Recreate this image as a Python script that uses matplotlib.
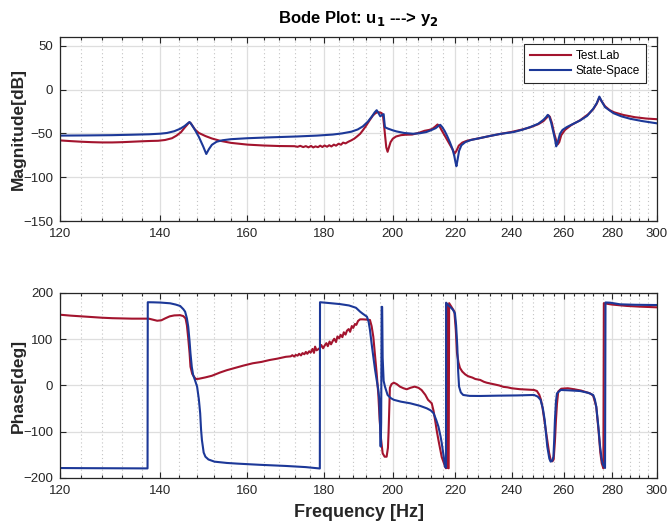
import matplotlib
matplotlib.use("Agg")
import matplotlib.pyplot as plt
from matplotlib.ticker import FixedLocator, NullFormatter, FixedFormatter

plt.rcParams['font.family'] = ['Liberation Sans', 'DejaVu Sans']

# ---------------- Magnitude [dB] ----------------
mag_test_f = [120.0, 122.0, 124.0, 126.0, 128.0, 130.0, 132.0, 134.0, 136.0, 138.0,
              139.5, 141.0, 142.5, 143.5, 144.5, 145.2, 145.8, 146.3, 146.6, 147.0,
              147.6, 148.5, 150.0, 151.5, 153.5, 156.0, 160.0, 164.0, 168.0,
              172.0, 172.8, 173.5, 174.3, 175.0, 175.7, 176.4, 177.0, 177.6, 178.3,
              178.9, 179.5, 180.1, 180.8, 181.4, 182.0, 182.7, 183.3, 184.0, 184.7,
              185.3, 186.0, 186.8, 187.6, 188.5, 189.3, 190.2, 191.0, 192.0, 193.0,
              194.0, 194.7, 195.3, 196.0, 196.6, 197.0, 197.3, 197.7, 198.0, 198.4,
              198.8, 199.3, 200.0, 201.0, 202.5, 204.0, 206.0, 208.0, 210.0, 211.5,
              212.5, 213.5, 214.2, 214.8, 215.5, 216.5, 217.5, 218.5, 219.3, 219.9,
              220.5, 221.3, 222.5, 224.0, 226.0, 228.7, 232.0, 236.0, 240.0, 244.0,
              247.0, 250.0, 252.0, 253.3, 254.0, 254.5, 255.3, 256.2, 257.0, 257.6,
              258.2, 259.0, 260.5, 263.0, 266.6, 270.0, 272.0, 273.5, 274.6, 275.5,
              277.0, 279.0, 281.0, 285.0, 290.0, 295.0, 300.0]
mag_test_db = [-58.0, -58.8, -59.5, -60.0, -60.3, -60.3, -60.0, -59.5, -59.0, -58.6,
               -58.4, -57.5, -55.5, -52.5, -48.5, -44.0, -40.5, -37.5, -38.0, -41.0,
               -45.5, -49.5, -53.0, -55.8, -58.5, -60.8, -62.8, -63.8, -64.4,
               -64.6, -65.3, -64.2, -65.6, -64.5, -65.9, -64.3, -66.0, -64.8, -65.7,
               -64.0, -65.5, -63.8, -65.2, -63.5, -64.9, -62.8, -64.0, -61.8, -62.9,
               -60.5, -61.4, -59.5, -58.0, -56.0, -53.5, -50.5, -46.5, -41.0, -35.0,
               -29.5, -27.0, -25.8, -26.0, -26.8, -30.0, -40.0, -55.0, -66.0, -71.0,
               -66.0, -60.0, -56.0, -53.5, -52.0, -51.5, -51.3, -49.5, -47.0, -46.0,
               -44.8, -42.0, -39.8, -41.5, -46.0, -52.0, -58.0, -64.0, -69.0, -73.0,
               -70.0, -64.0, -60.5, -58.5, -57.0, -55.3, -53.0, -50.5, -48.3, -45.5,
               -43.0, -39.5, -36.0, -32.0, -29.5, -31.0, -38.0, -50.0, -58.0, -62.5,
               -60.0, -52.0, -46.0, -40.5, -35.0, -28.0, -22.5, -16.0, -9.0, -13.0,
               -19.0, -23.5, -26.0, -29.0, -31.5, -33.0, -33.8]

mag_ss_f = [120.0, 125.0, 130.0, 134.0, 137.6, 140.0, 141.4, 143.0, 144.3, 145.3,
            146.0, 146.4, 146.8, 147.5, 148.5, 149.5, 150.2, 150.8, 151.5, 152.6,
            154.0, 156.0, 160.0, 165.0, 172.6, 178.0, 182.4, 185.0, 187.7, 189.5,
            191.0, 192.5, 193.8, 194.5, 195.1, 195.6, 196.2, 196.7, 197.2, 197.4,
            197.6, 198.5, 200.0, 201.1, 203.5, 206.3, 208.5, 210.5, 212.0, 213.6,
            214.5, 215.1, 215.8, 216.6, 217.4, 218.3, 219.2, 219.8, 220.2, 220.5,
            220.9, 221.4, 222.2, 223.5, 225.5, 228.7, 232.0, 236.0, 240.7, 244.0,
            246.9, 250.0, 252.0, 253.0, 253.7, 254.3, 255.0, 256.0, 256.6, 257.0,
            257.5, 258.5, 259.5, 261.2, 263.5, 266.6, 269.5, 272.0, 273.5, 274.6,
            275.5, 277.0, 280.6, 284.0, 287.9, 293.0, 298.1, 300.0]
mag_ss_db = [-52.5, -52.3, -52.0, -51.5, -51.0, -50.3, -49.5, -47.5, -44.7, -41.5,
             -38.5, -37.0, -39.5, -45.0, -54.0, -65.0, -73.5, -68.0, -63.0, -59.5,
             -57.8, -56.6, -55.5, -54.6, -53.5, -52.5, -51.3, -50.0, -48.0, -45.5,
             -42.0, -36.5, -30.0, -26.0, -23.5, -26.5, -30.5, -29.0, -28.0, -36.0,
             -43.0, -44.5, -46.5, -47.7, -49.5, -50.4, -49.8, -48.5, -46.5, -44.0,
             -41.5, -40.2, -43.0, -47.5, -53.0, -60.0, -68.0, -76.0, -83.0, -87.5,
             -80.0, -70.0, -63.5, -60.0, -57.5, -55.3, -53.0, -50.5, -48.5, -45.8,
             -42.8, -39.0, -34.5, -31.5, -28.8, -31.0, -37.5, -50.0, -58.0, -64.8,
             -61.0, -50.4, -46.0, -42.8, -39.5, -35.2, -30.0, -22.0, -15.5, -8.0,
             -13.0, -20.0, -26.9, -30.5, -33.3, -35.8, -37.8, -38.5]

# ---------------- Phase [deg] ----------------
ph_test_f = [120.0, 122.0, 124.0, 126.0, 128.0, 130.0, 132.0, 134.0, 136.0, 137.5,
             138.5, 139.3, 140.2, 141.0, 142.0, 143.0, 144.3, 145.0, 145.5, 145.8,
             146.1, 146.4, 146.6, 147.0, 147.4, 147.8, 148.5, 150.0, 151.5, 153.4,
             155.0, 157.0, 159.0, 161.3, 163.5, 165.5, 167.5, 169.7,
             171.0, 171.4, 171.9, 172.3, 172.8, 173.2, 173.7, 174.1, 174.6, 175.0,
             175.4, 175.9, 176.3, 176.8, 177.2, 177.5, 177.9, 178.4, 178.8, 179.2,
             179.7, 180.1, 180.6, 181.0, 181.5, 181.9, 182.4, 182.8, 183.3, 183.7,
             184.2, 184.6, 185.1, 185.5, 186.0, 186.4, 186.9, 187.3, 187.8, 188.2,
             188.7, 189.1, 189.6, 190.2, 191.0,
             192.0, 193.1, 193.6, 194.1, 194.6, 195.1, 195.6, 196.0, 196.4, 196.9,
             197.5, 198.1, 198.5, 198.7, 198.9, 199.1, 199.6, 200.3, 201.2, 202.2,
             203.3, 204.3, 205.5, 206.8, 208.0, 209.0, 210.2, 211.1, 212.3, 212.9,
             213.4, 214.0, 214.7, 215.6, 216.7, 217.0, 217.1, 217.35, 217.5, 217.9,
             218.05, 219.0, 219.8, 220.3, 220.7, 221.2, 221.7, 222.5, 223.5, 224.5,
             226.0, 227.0, 228.7, 230.0, 231.0, 232.5, 234.0, 235.5, 237.0, 238.5,
             240.0, 241.5, 243.0, 244.5, 246.0, 248.4, 249.5, 250.4, 251.0, 251.6,
             252.5, 253.5, 254.2, 254.8, 255.5, 256.0, 256.5, 256.9, 257.3, 257.8,
             259.0, 261.6, 264.0, 267.0, 270.7, 272.0, 273.3, 274.3, 275.0, 275.6,
             276.3, 276.5, 277.5, 280.0, 286.4, 292.0, 300.0]
ph_test_deg = [153.0, 151.0, 149.5, 148.0, 146.5, 145.5, 145.0, 144.5, 144.5, 144.5,
               142.0, 140.0, 141.0, 145.0, 149.5, 151.5, 152.0, 150.0, 145.0, 130.0,
               102.0, 70.0, 40.6, 25.0, 19.0, 14.0, 14.5, 17.5, 21.0, 28.0,
               33.0, 38.0, 43.0, 48.0, 51.0, 55.0, 58.0, 62.0,
               63.0, 65.5, 62.5, 66.0, 64.5, 68.5, 65.0, 70.0, 67.5, 72.5,
               68.5, 74.0, 71.0, 79.0, 70.5, 84.0, 76.0, 78.5, 81.0, 87.5,
               80.5, 86.0, 91.5, 85.0, 95.0, 89.0, 96.5, 101.0, 94.0, 106.0,
               102.0, 109.5, 104.5, 115.0, 110.0, 118.5, 122.0, 116.0, 128.5, 124.5,
               133.0, 131.0, 139.5, 143.0, 143.0,
               142.5, 141.6, 128.0, 105.0, 65.0, 26.0, -20.0, -74.6, -115.0, -146.6,
               -154.0, -154.0, -135.0, -100.0, -50.0, -5.0, 3.0, 6.0, 3.0, -2.5,
               -6.0, -8.2, -5.0, -2.5, -5.0, -9.7, -20.0, -31.0, -38.5, -55.0,
               -74.6, -100.0, -125.0, -155.0, -175.0, -179.0, 178.0, 170.0, -178.0, -179.0,
               178.0, 168.0, 160.0, 120.0, 70.0, 50.0, 38.0, 30.0, 24.0, 20.0,
               17.0, 14.0, 12.0, 8.0, 6.0, 4.0, 2.0, 0.0, -3.0, -4.0,
               -6.0, -7.0, -8.0, -8.5, -9.0, -9.7, -12.0, -20.0, -30.0, -46.0,
               -80.0, -118.0, -145.0, -161.0, -164.0, -160.0, -120.0, -75.0, -40.0, -13.0,
               -7.0, -6.0, -8.0, -11.0, -17.0, -22.0, -46.0, -100.0, -145.0, -168.0,
               -179.0, 178.0, 177.0, 175.0, 172.0, 170.5, 169.0]

ph_ss_f = [120.0, 125.0, 130.0, 137.25, 137.3, 138.5, 140.0, 142.1, 143.3, 144.3,
           145.0, 145.4, 145.8, 146.1, 146.4, 146.6, 146.9, 147.2, 147.6, 148.1,
           148.5, 148.8, 149.0, 149.2, 149.6, 150.0, 150.7, 152.1, 155.0, 157.6,
           163.0, 169.7, 175.0, 178.8, 178.85, 181.0, 184.4, 187.0, 189.0, 190.2,
           191.0, 192.2, 192.7, 193.1, 193.6, 194.1, 194.6, 195.1, 195.6, 195.9,
           196.1, 196.3, 196.45, 196.6, 196.75, 196.9, 197.2, 197.6, 198.4, 199.3,
           200.3, 202.5, 205.4, 208.5, 210.7, 212.0, 212.9, 213.8, 214.5, 215.2,
           215.6, 216.2, 216.7, 217.0, 217.05, 218.0, 218.4, 219.3, 220.0, 220.4,
           220.8, 221.1, 221.4, 222.0, 222.8, 225.0, 228.7, 235.0, 242.0, 248.4,
           249.8, 250.9, 251.8, 252.5, 253.5, 254.3, 254.8, 255.4, 255.9, 256.2,
           256.5, 256.9, 257.3, 258.8, 262.0, 266.6, 270.0, 272.0, 272.7, 273.3,
           274.2, 274.9, 275.6, 276.2, 277.0, 277.2, 279.2, 283.5, 290.0, 298.6,
           300.0]
ph_ss_deg = [-178.5, -178.8, -179.0, -179.3, 180.0, 179.8, 179.3, 177.7, 175.0, 171.9,
             165.0, 159.6, 145.0, 127.0, 95.0, 69.6, 40.0, 22.7, 12.0, -2.5,
             -30.0, -60.0, -95.0, -118.0, -145.0, -154.0, -160.0, -164.7, -167.5, -169.0,
             -171.5, -174.0, -176.5, -179.5, 180.0, 178.5, 176.0, 173.0, 168.0, 159.6,
             155.0, 148.8, 138.0, 120.0, 90.0, 62.0, 35.0, 12.0, -10.0, -31.0,
             -80.0, -132.0, -80.0, 170.0, 170.0, 60.0, 10.0, -2.5, -20.5, -27.0,
             -31.0, -35.0, -38.5, -44.0, -49.4, -54.0, -60.0, -75.0, -89.0, -110.0,
             -125.0, -152.0, -175.5, -178.0, 179.0, 172.0, 170.0, 164.0, 156.0, 130.0,
             84.0, 30.0, -2.5, -15.0, -20.5, -22.5, -22.7, -22.0, -21.5, -20.5,
             -24.0, -31.0, -50.0, -74.6, -132.0, -158.0, -164.7, -163.0, -154.0, -120.0,
             -74.6, -35.0, -17.0, -9.7, -10.5, -12.0, -16.0, -20.5, -30.0, -45.8,
             -90.0, -132.0, -160.0, -172.0, -178.5, 179.5, 179.0, 175.5, 174.5, 174.0,
             174.0]

freq_ticks = [120, 140, 160, 180, 200, 220, 240, 260, 280, 300]
freq_minor = [f for f in range(124, 300, 4) if f not in freq_ticks]
mag_ticks = [-150, -100, -50, 0, 50]
phase_ticks = [-200, -100, 0, 100, 200]

RED = '#A3142E'
BLUE = '#1C3898'
INK = '#262626'

fig = plt.figure(figsize=(6.67, 5.26), dpi=100)
ax1 = fig.add_axes([0.0900, 0.5798, 0.8950, 0.3498])
ax2 = fig.add_axes([0.0900, 0.0913, 0.8950, 0.3517])


def style_axes(ax, yticks):
    ax.set_xscale('log')
    ax.set_xlim(120, 300)
    ax.xaxis.set_major_locator(FixedLocator(freq_ticks))
    ax.xaxis.set_major_formatter(FixedFormatter([str(t) for t in freq_ticks]))
    ax.xaxis.set_minor_locator(FixedLocator(freq_minor))
    ax.xaxis.set_minor_formatter(NullFormatter())
    ax.set_yticks(yticks)
    ax.grid(which='major', color='#dedede', lw=0.9)
    ax.grid(which='minor', axis='x', color='#c4c4c4', lw=0.8, linestyle=(0, (1, 2.5)))
    ax.set_axisbelow(True)
    ax.tick_params(which='both', direction='in', top=True, right=True,
                   colors=INK, labelsize=9.5, width=0.8)
    ax.tick_params(which='major', length=4.5, pad=5)
    ax.tick_params(which='minor', length=2.5)
    for s in ax.spines.values():
        s.set_color(INK)
        s.set_linewidth(0.9)


ax1.plot(mag_test_f, mag_test_db, color=RED, lw=1.5, label='Test.Lab')
ax1.plot(mag_ss_f, mag_ss_db, color=BLUE, lw=1.5, label='State-Space')
style_axes(ax1, mag_ticks)
ax1.set_ylim(-150, 60)
ax1.set_ylabel('Magnitude[dB]', fontsize=12.5, fontweight='bold', color=INK)
ax1.yaxis.set_label_coords(-0.058, 0.5)
ax1.set_title('Bode Plot: u$_\\mathbf{1}$ ---> y$_\\mathbf{2}$', fontsize=12,
              fontweight='bold', color='black', pad=10)
leg = ax1.legend(loc='upper right', bbox_to_anchor=(0.9816, 0.962), borderaxespad=0,
                 fontsize=8.5, handlelength=3.5, fancybox=False, framealpha=1,
                 edgecolor=INK, borderpad=0.5, labelspacing=0.3, handletextpad=0.4)
leg.get_frame().set_linewidth(0.8)

ax2.plot(ph_test_f, ph_test_deg, color=RED, lw=1.5)
ax2.plot(ph_ss_f, ph_ss_deg, color=BLUE, lw=1.5)
style_axes(ax2, phase_ticks)
ax2.set_ylim(-200, 200)
ax2.set_ylabel('Phase[deg]', fontsize=12.5, fontweight='bold', color=INK)
ax2.yaxis.set_label_coords(-0.058, 0.5)
ax2.set_xlabel('Frequency [Hz]', fontsize=13, fontweight='bold', color=INK, labelpad=5)

fig.savefig('out.png', dpi=100)
